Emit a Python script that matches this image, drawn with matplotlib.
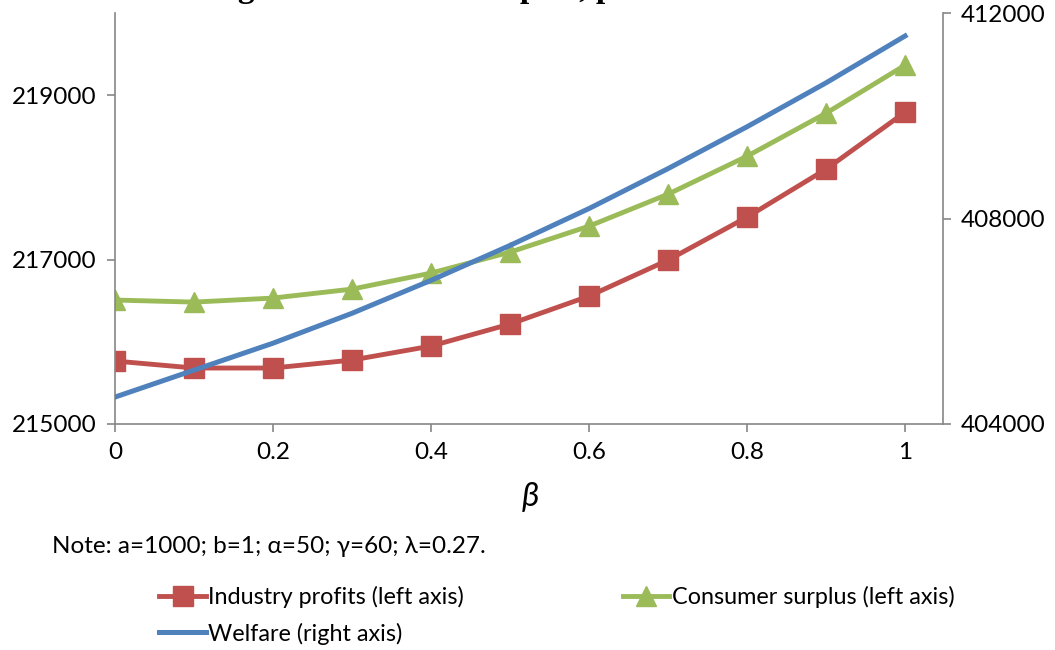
import matplotlib
matplotlib.use('Agg')
import matplotlib.pyplot as plt

# data
beta = [0, 0.1, 0.2, 0.3, 0.4, 0.5, 0.6, 0.7, 0.8, 0.9, 1.0]
profits = [215766, 215681, 215681, 215778, 215948, 216216, 216556, 216994, 217517, 218100, 218793]
surplus = [216508, 216483, 216532, 216641, 216836, 217091, 217407, 217796, 218258, 218781, 219365]
welfare = [404524, 405049, 405573, 406155, 406796, 407476, 408194, 408971, 409786, 410641, 411553]

x_ticks = [0, 0.2, 0.4, 0.6, 0.8, 1.0]
x_labels = ['0', '0.2', '0.4', '0.6', '0.8', '1']
left_ticks = [215000, 217000, 219000]
right_ticks = [404000, 408000, 412000]

red = '#C0504D'
green = '#9BBB59'
blue = '#4F81BD'
grey = '#868686'

plt.rcParams['font.family'] = ['Lato', 'DejaVu Sans']
fs = 17.5

W, H = 1055, 650
fig = plt.figure(figsize=(W / 100, H / 100), dpi=100)
ax = fig.add_axes([115 / W, 1 - 424 / H, (943 - 115) / W, (424 - 13) / H])
ax2 = ax.twinx()

l1, = ax.plot(beta, profits, color=red, lw=3.5, marker='s', markersize=14,
              markerfacecolor=red, markeredgecolor=red, label='Industry profits (left axis)')
l2, = ax.plot(beta, surplus, color=green, lw=3.5, marker='^', markersize=15,
              markerfacecolor=green, markeredgecolor=green, label='Consumer surplus (left axis)')
l3, = ax2.plot(beta, welfare, color=blue, lw=3.6, label='Welfare (right axis)')

ax.set_xlim(0, 1.048)
ax.set_ylim(215000, 220000)
ax2.set_ylim(404000, 412000)

ax.set_xticks(x_ticks)
ax.set_xticklabels(x_labels)
ax.set_yticks(left_ticks)
ax.set_yticklabels([str(v) for v in left_ticks])
ax2.set_yticks(right_ticks)
ax2.set_yticklabels([str(v) for v in right_ticks])

for a in (ax, ax2):
    a.spines['top'].set_visible(False)
    for s in ('left', 'right', 'bottom'):
        a.spines[s].set_color(grey)
        a.spines[s].set_linewidth(1.2)
    a.tick_params(colors=grey, labelcolor='black', labelsize=fs, width=1.2, length=6, pad=7)
ax.spines['right'].set_visible(False)
ax2.spines['left'].set_visible(False)
ax2.spines['bottom'].set_visible(False)

fig.text(530 / W, 1 - 497 / H, 'β', fontsize=24, style='italic', ha='center', va='center')
fig.text(52 / W, 1 - 553 / H, 'Note: a=1000; b=1; α=50; γ=60; λ=0.27.', fontsize=fs,
         ha='left', va='baseline')

# title cut off at the top edge of the original picture
fig.text(160 / W, 1 + 3 / H, 'Changes in consumer surplus, profits and welfare',
         fontsize=24, fontweight='bold', family='Liberation Serif', ha='left', va='baseline')

fig.legend(handles=[l1, l3, l2], ncol=2, loc='upper left', frameon=False,
           bbox_to_anchor=(150 / W, 1 - 577 / H), fontsize=16.8, handlelength=2.0,
           handletextpad=0.1, columnspacing=6.8, labelspacing=0.6, borderaxespad=0)

fig.savefig('out.png', dpi=100)
